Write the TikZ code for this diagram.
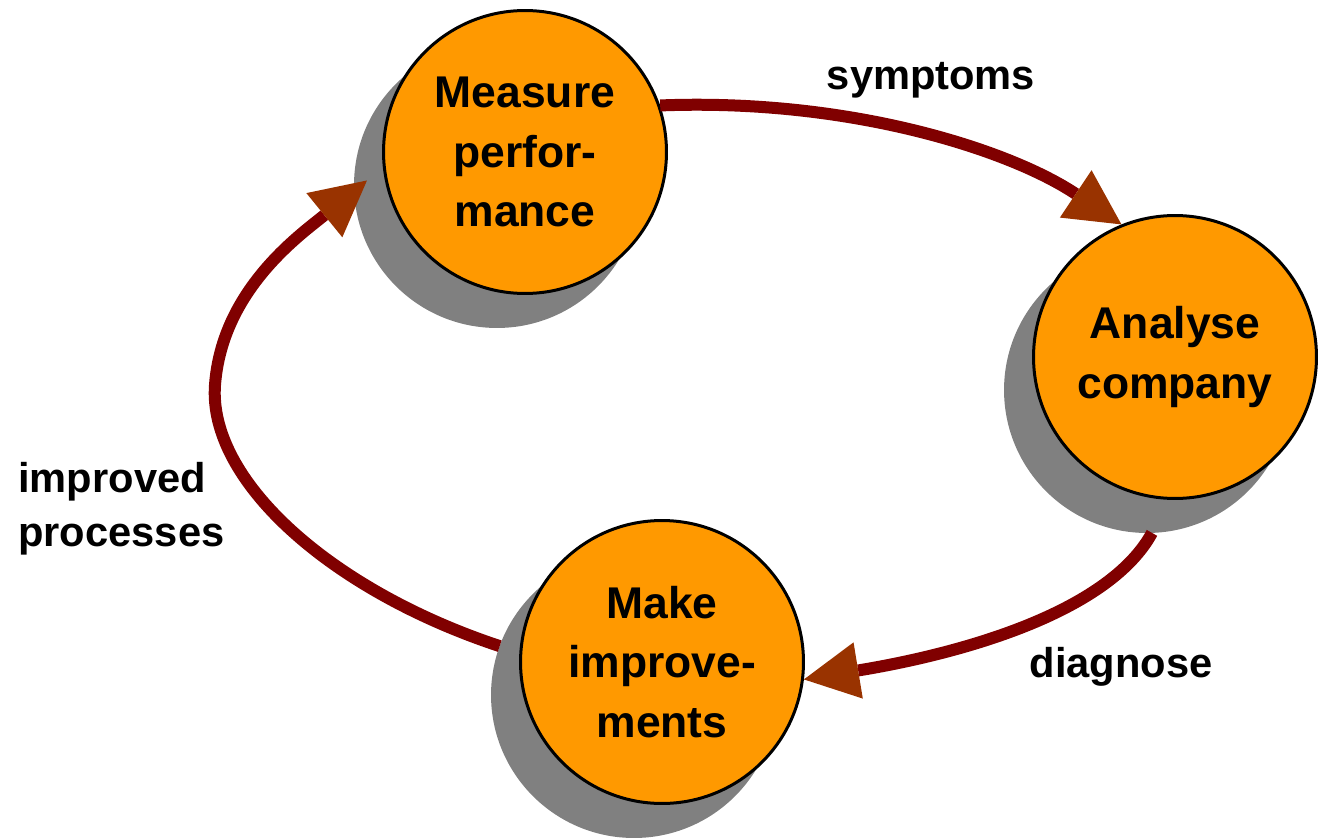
\documentclass[tikz,border=0pt]{standalone}
\usepackage{fontspec}
\setmainfont{Liberation Sans}
\usetikzlibrary{arrows.meta,calc}
\definecolor{orangefill}{HTML}{FF9900}
\definecolor{shadowgray}{HTML}{808080}
\definecolor{loopred}{HTML}{800000}
\definecolor{tipbrown}{HTML}{993300}
\begin{document}
\begin{tikzpicture}[x=0.02cm,y=-0.02cm,
  stage/.style={circle, draw=black, line width=0.06cm, fill=orangefill, minimum size=5.66cm, inner sep=0pt, align=center, font=\fontsize{25.3}{34}\selectfont\bfseries},
  dropshadow/.style={circle, fill=shadowgray, minimum size=5.72cm, inner sep=0pt, outer sep=0pt},
  cycleedge/.style={draw=loopred, line width=0.24cm, -{Triangle[length=1.1cm,width=1.14cm,color=tipbrown,line width=0pt 0 0]}},
  lbl/.style={font=\fontsize{23.7}{30.6}\selectfont\bfseries, inner sep=0pt}]
\useasboundingbox (0,0) rectangle (1321,838);
\node[dropshadow] (mshadow) at (497,185) {};
\node[dropshadow] (ashadow) at (1147,390) {};
\node[dropshadow] (kshadow) at (634,695) {};
\node[stage] (measure) at (525,152) {Measure\\perfor-\\mance};
\node[stage] (analyse) at (1175,357) {Analyse\\company};
\node[stage] (make) at (662,662) {Make\\improve-\\ments};
\draw[cycleedge] (measure.19) .. controls (850,98) and (1010,150) .. (analyse.112);
\draw[cycleedge] (ashadow.-88) .. controls (1110,610) and (970,652) .. (make.-7);
\draw[cycleedge] (kshadow.160) .. controls (330,590) and (208,480) .. (215,385) .. controls (222,290) and (300,235) .. ($(mshadow.center)!0.91!(mshadow.178)$);
\node[lbl, anchor=base] (symptoms) at (931,90) {symptoms};
\node[lbl, anchor=base] (diagnose) at (1121,677) {diagnose};
\node[lbl, anchor=base west, align=left] (improved) at (18,546) {improved\\processes};
\end{tikzpicture}
\end{document}
